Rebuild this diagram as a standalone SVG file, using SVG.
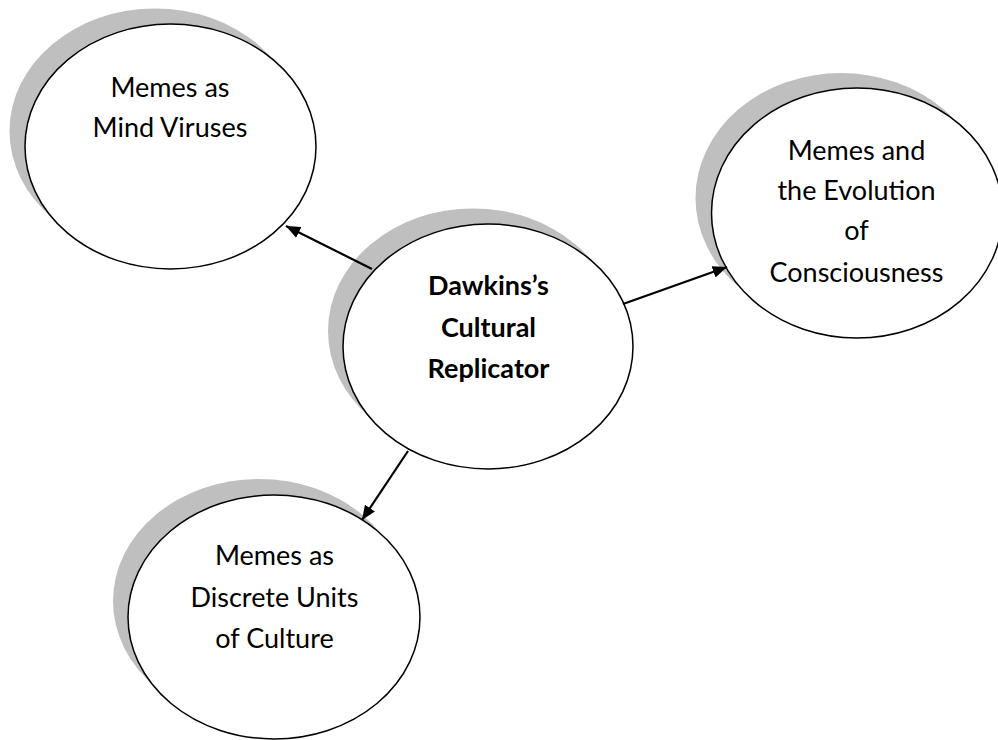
<svg xmlns="http://www.w3.org/2000/svg" width="998" height="740" viewBox="0 0 998 740">
<style>
.shadow{fill:#bfbfbf;stroke:none}
.node{fill:#ffffff;stroke:#000000;stroke-width:1.5}
.lbl{font-family:Lato,"Open Sans","Liberation Sans",sans-serif;font-size:27px;fill:#000000;text-anchor:middle}
.bold{font-weight:bold}
.conn{stroke:#000000;stroke-width:2.2;fill:none}
</style>
<defs>
<marker id="arrow" viewBox="0 0 10 10" refX="10" refY="5" markerWidth="6.5" markerHeight="6.5" markerUnits="strokeWidth" orient="auto">
<path d="M0,0.8 L10,5 L0,9.2 z" fill="#000000"/>
</marker>
</defs>
<rect width="998" height="740" fill="#ffffff"/>
<g id="node-mind-viruses">
<ellipse class="shadow" cx="155" cy="131" rx="145.5" ry="122.5"/>
<ellipse class="node" cx="170.5" cy="146.5" rx="145.5" ry="122.5"/>
<text class="lbl" x="170" y="97">Memes as</text>
<text class="lbl" x="170" y="137">Mind Viruses</text>
</g>
<g id="node-evolution">
<ellipse class="shadow" cx="841" cy="198" rx="145.5" ry="125"/>
<ellipse class="node" cx="857" cy="213" rx="145.5" ry="125"/>
<text class="lbl" x="856.5" y="160">Memes and</text>
<text class="lbl" x="856.5" y="200">the Evolution</text>
<text class="lbl" x="856.5" y="240">of</text>
<text class="lbl" x="856.5" y="282">Consciousness</text>
</g>
<g id="node-discrete-units">
<ellipse class="shadow" cx="259" cy="601" rx="146" ry="122"/>
<ellipse class="node" cx="274" cy="617" rx="146" ry="122"/>
<text class="lbl" x="274.5" y="565">Memes as</text>
<text class="lbl" x="274.5" y="607">Discrete Units</text>
<text class="lbl" x="274.5" y="648">of Culture</text>
</g>
<g id="node-center">
<ellipse class="shadow" cx="473" cy="331" rx="145" ry="122.5"/>
<ellipse class="node" cx="488" cy="346.5" rx="145" ry="122.5"/>
<text class="lbl bold" x="488.5" y="295">Dawkins’s</text>
<text class="lbl bold" x="488.5" y="337">Cultural</text>
<text class="lbl bold" x="488.5" y="378">Replicator</text>
</g>
<g id="connectors">
<line class="conn" x1="372" y1="269" x2="286" y2="226" marker-end="url(#arrow)"/>
<line class="conn" x1="623" y1="304" x2="727" y2="267" marker-end="url(#arrow)"/>
<line class="conn" x1="408" y1="451" x2="362" y2="520" marker-end="url(#arrow)"/>
</g>
</svg>
